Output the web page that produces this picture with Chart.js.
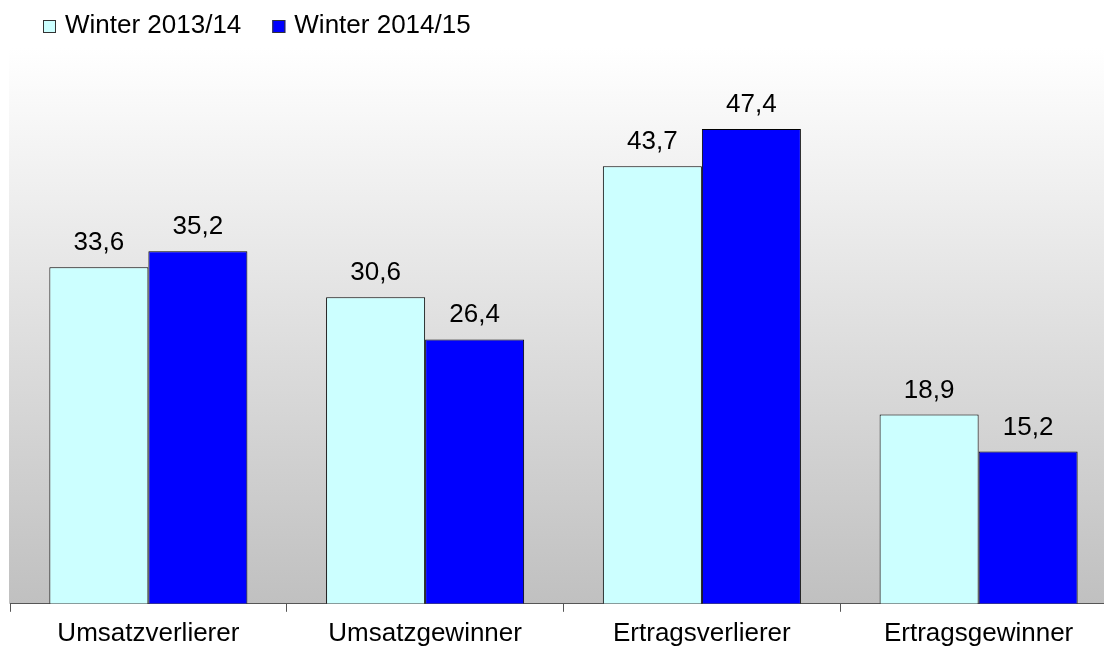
<!DOCTYPE html>
<html>
<head>
<meta charset="utf-8">
<script src="https://cdn.jsdelivr.net/npm/chart.js@4.4.1/dist/chart.umd.min.js"></script>
<style>
  html, body { margin: 0; padding: 0; background: #ffffff; overflow: hidden; }
  #wrap { position: relative; width: 1117px; height: 655px; }
</style>
</head>
<body>
<div id="wrap"><canvas id="c"></canvas></div>
<script>
const categories = ['Umsatzverlierer', 'Umsatzgewinner', 'Ertragsverlierer', 'Ertragsgewinner'];
const seriesNames = ['Winter 2013/14', 'Winter 2014/15'];
const winter1314 = [33.6, 30.6, 43.7, 18.9];
const winter1415 = [35.2, 26.4, 47.4, 15.2];
const seriesColors = ['#CCFFFF', '#0000FF'];

const FONT = "'Liberation Sans', Arial, sans-serif";
const FS = 26;

const bgPlugin = {
  id: 'bg',
  beforeDraw(chart) {
    const { ctx, chartArea: a } = chart;
    const g = ctx.createLinearGradient(0, a.top, 0, a.bottom);
    g.addColorStop(0, '#ffffff');
    g.addColorStop(1, '#c0c0c0');
    ctx.save();
    ctx.fillStyle = g;
    ctx.fillRect(a.left - 1, a.top, a.right - a.left + 1, a.bottom - a.top);
    ctx.restore();
  }
};

const valuePlugin = {
  id: 'values',
  afterDatasetsDraw(chart) {
    const { ctx } = chart;
    ctx.save();
    ctx.font = FS + 'px ' + FONT;
    ctx.fillStyle = '#000000';
    ctx.textAlign = 'center';
    ctx.textBaseline = 'alphabetic';
    chart.data.datasets.forEach((ds, di) => {
      const meta = chart.getDatasetMeta(di);
      meta.data.forEach((bar, i) => {
        const txt = ds.data[i].toFixed(1).replace('.', ',');
        ctx.fillText(txt, bar.x, bar.y - 17);
      });
    });
    ctx.restore();
  }
};

const legendPlugin = {
  id: 'customLegend',
  afterDraw(chart) {
    const { ctx } = chart;
    ctx.save();
    ctx.font = FS + 'px ' + FONT;
    ctx.textBaseline = 'alphabetic';
    ctx.textAlign = 'left';
    let x = 43;
    const baseY = 33;
    chart.data.datasets.forEach((ds) => {
      ctx.fillStyle = ds.backgroundColor;
      ctx.fillRect(x, baseY - 13, 13, 13);
      ctx.strokeStyle = '#333333';
      ctx.lineWidth = 1;
      ctx.strokeRect(x + 0.5, baseY - 12.5, 12, 12);
      ctx.fillStyle = '#000000';
      ctx.fillText(ds.label, x + 22, baseY);
      x += 22 + ctx.measureText(ds.label).width + 31;
    });
    ctx.restore();
  }
};

new Chart(document.getElementById('c'), {
  type: 'bar',
  data: {
    labels: categories,
    datasets: [
      { label: seriesNames[0], data: winter1314, backgroundColor: seriesColors[0], borderColor: '#000000', borderWidth: 1 },
      { label: seriesNames[1], data: winter1415, backgroundColor: seriesColors[1], borderColor: '#000000', borderWidth: 1 }
    ]
  },
  options: {
    responsive: true,
    maintainAspectRatio: false,
    animation: false,
    layout: { padding: { left: 10, right: 0, top: 48, bottom: 0 } },
    datasets: { bar: { categoryPercentage: 0.7156, barPercentage: 1.0 } },
    plugins: {
      legend: { display: false },
      tooltip: { enabled: false }
    },
    scales: {
      x: {
        offset: true,
        grid: { display: true, drawOnChartArea: false, drawTicks: true, tickLength: 8, color: '#555555', offset: true },
        border: { display: true, color: '#555555', width: 1 },
        ticks: { color: '#000000', font: { family: FONT, size: FS }, padding: 6, maxRotation: 0, autoSkip: false }
      },
      y: {
        display: false,
        min: 0,
        max: 55.5
      }
    }
  },
  plugins: [bgPlugin, valuePlugin, legendPlugin]
});
</script>
</body>
</html>
